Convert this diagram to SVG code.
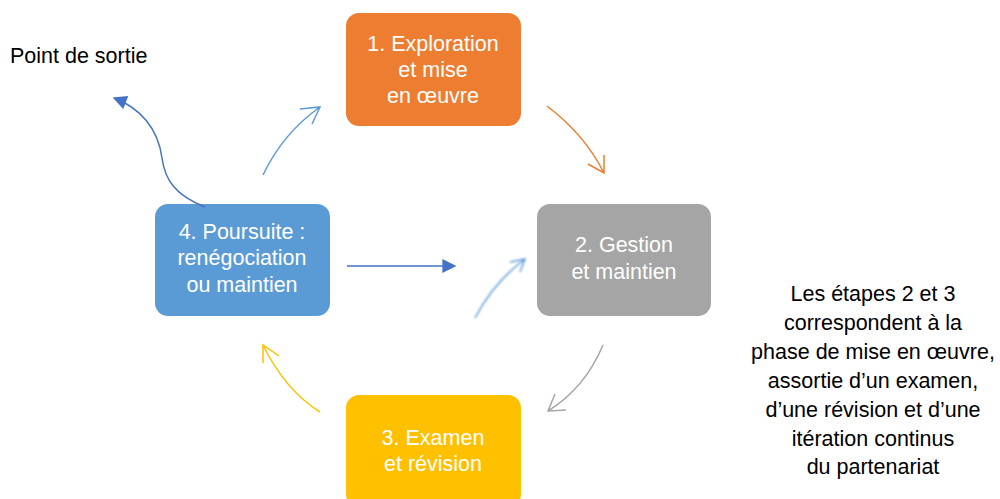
<svg xmlns="http://www.w3.org/2000/svg" width="1000" height="499" viewBox="0 0 1000 499">
<defs>
<style>
.box{stroke:none}
.t{font-family:"Liberation Sans","Noto Sans",sans-serif;font-size:21.5px;fill:#fff;text-anchor:middle}
.k{font-family:"Liberation Sans","Noto Sans",sans-serif;font-size:21.5px;fill:#000;text-anchor:middle}
.c{fill:none;stroke-width:1.5}
</style>
<marker id="tri" viewBox="0 0 10 10" refX="9" refY="5" markerWidth="15" markerHeight="14" orient="auto" markerUnits="userSpaceOnUse">
<path d="M0,0 L10,5 L0,10 z" fill="#4472C4"/>
</marker>
<filter id="blur"><feGaussianBlur stdDeviation="0.8"/></filter>
</defs>
<rect width="1000" height="499" fill="#fff"/>
<g id="n1"><rect class="box" x="346" y="13" width="175" height="113" rx="13" fill="#ED7D31"/>
<text class="t" x="433" y="51">1. Exploration</text><text class="t" x="433" y="77">et mise</text><text class="t" x="433" y="103">en œuvre</text></g>
<g id="n2"><rect class="box" x="537" y="204" width="174" height="112" rx="13" fill="#A5A5A5"/>
<text class="t" x="624" y="252">2. Gestion</text><text class="t" x="624" y="279">et maintien</text></g>
<g id="n3"><rect class="box" x="346" y="395" width="175" height="112" rx="13" fill="#FFC000"/>
<text class="t" x="433" y="445">3. Examen</text><text class="t" x="433" y="471">et révision</text></g>
<g id="n4"><rect class="box" x="155" y="204" width="175" height="112" rx="13" fill="#5B9BD5"/>
<text class="t" x="242" y="239">4. Poursuite :</text><text class="t" x="242" y="265">renégociation</text><text class="t" x="242" y="292">ou maintien</text></g>
<g id="exit"><text class="k" x="10" y="63" style="text-anchor:start">Point de sortie</text></g>
<g id="note">
<text class="k" x="873" y="301">Les étapes 2 et 3</text>
<text class="k" x="873" y="330">correspondent à la</text>
<text class="k" x="873" y="359">phase de mise en œuvre,</text>
<text class="k" x="873" y="388">assortie d’un examen,</text>
<text class="k" x="873" y="417">d’une révision et d’une</text>
<text class="k" x="873" y="446">itération continus</text>
<text class="k" x="873" y="474">du partenariat</text>
</g>
<g id="connectors">
<path class="c" stroke="#5B9BD5" d="M263,175 Q283,133 320,107 M300,109 L320,107 L312,124"/>
<path class="c" stroke="#ED7D31" d="M547,106 Q585,135 604,173 M604,155 L604,173 L588,164"/>
<path class="c" stroke="#A5A5A5" d="M603,345 Q585,388 548,411 M555,394 L548,411 L566,410"/>
<path class="c" stroke="#FFC000" d="M320,412 Q285,390 263,345 M263,363 L263,345 L279,356"/>
<path class="c" stroke="#4472C4" d="M205,207 C175,195 165,180 162,158 C158,128 140,108 114,98" marker-end="url(#tri)"/>
<path class="c" stroke="#4472C4" d="M347,266 L455,266" marker-end="url(#tri)"/>
<g filter="url(#blur)"><path class="c" stroke="#5B9BD5" stroke-width="2.2" d="M475,318 Q494,282 525,259 M510,262 L525,259 L520,272"/></g>
</g>
</svg>
